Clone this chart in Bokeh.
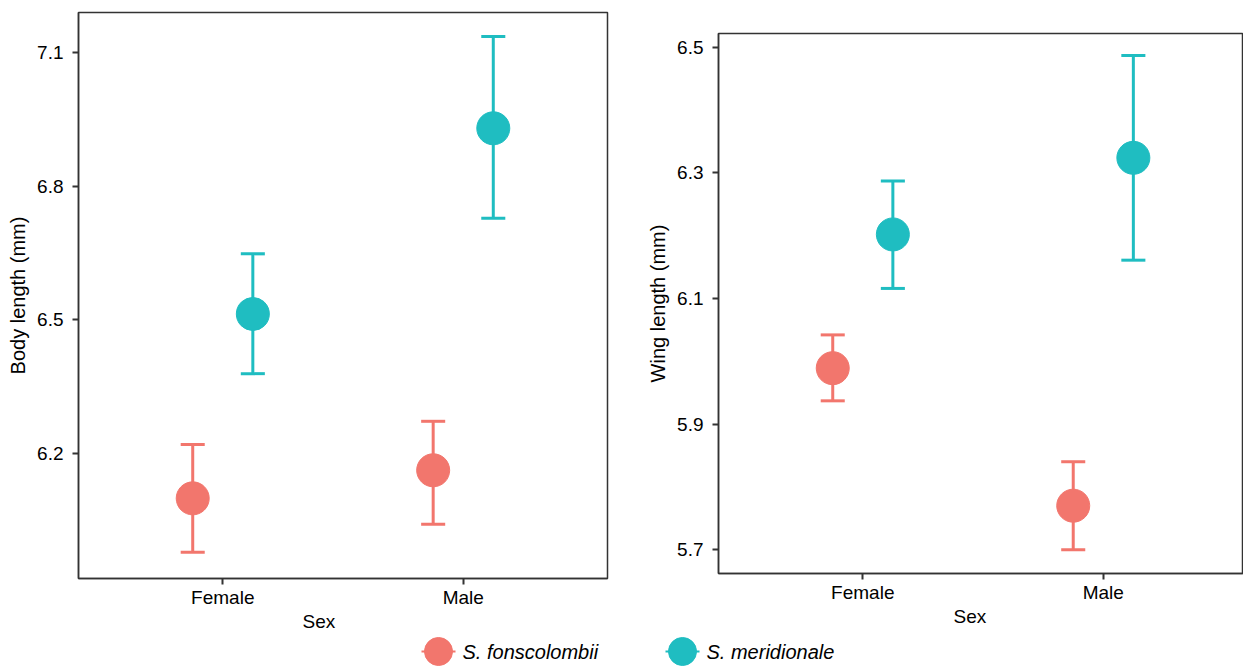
from bokeh.plotting import figure
from bokeh.layouts import column, row
from bokeh.models import FixedTicker, Range1d, Title
from bokeh.embed import file_html
from bokeh.resources import INLINE
from bokeh.core.properties import value

# ---- data ----
sexes = ["Female", "Male"]
species = ["S. fonscolombii", "S. meridionale"]
colors = ["#F2766D", "#1FBDC1"]

body_mean_fon = [6.099, 6.162]
body_lo_fon = [5.978, 6.041]
body_hi_fon = [6.220, 6.272]
body_mean_mer = [6.513, 6.930]
body_lo_mer = [6.379, 6.728]
body_hi_mer = [6.648, 7.136]

wing_mean_fon = [5.989, 5.770]
wing_lo_fon = [5.937, 5.700]
wing_hi_fon = [6.042, 5.840]
wing_mean_mer = [6.202, 6.324]
wing_lo_mer = [6.116, 6.161]
wing_hi_mer = [6.287, 6.487]

body_ticks = [6.2, 6.5, 6.8, 7.1]
wing_ticks = [5.7, 5.9, 6.1, 6.3, 6.5]

FONT = "Liberation Sans"
DARK = "#333333"
DODGE = 0.125
CAP = 0.05


def make_panel(width, height, borders, x_end, y_range, ticks, ylabel, series,
               xtitle_offset):
    bl, br, bt, bb = borders
    p = figure(width=width, height=height, x_range=Range1d(0.4, x_end),
               y_range=Range1d(*y_range), toolbar_location=None, title=None,
               output_backend="svg", min_border_left=bl, min_border_right=br,
               min_border_top=bt, min_border_bottom=bb)
    p.grid.visible = False
    p.outline_line_color = DARK
    p.outline_line_width = 1.5
    p.background_fill_color = "white"

    for k, (means, lo, hi) in enumerate(series):
        off = -DODGE if k == 0 else DODGE
        xs = [i + 1 + off for i in range(len(sexes))]
        c = colors[k]
        p.segment(x0=xs, y0=lo, x1=xs, y1=hi, line_color=c, line_width=3)
        p.segment(x0=[x - CAP for x in xs], y0=lo, x1=[x + CAP for x in xs], y1=lo,
                  line_color=c, line_width=3)
        p.segment(x0=[x - CAP for x in xs], y0=hi, x1=[x + CAP for x in xs], y1=hi,
                  line_color=c, line_width=3)
        p.scatter(x=xs, y=means, size=33, fill_color=c, line_color=c)

    p.xaxis.ticker = FixedTicker(ticks=[i + 1 for i in range(len(sexes))])
    p.xaxis.major_label_overrides = {i + 1: s for i, s in enumerate(sexes)}
    p.yaxis.ticker = FixedTicker(ticks=ticks)
    p.yaxis.axis_label = ylabel
    for ax in p.axis:
        ax.axis_line_color = DARK
        ax.axis_line_width = 1.5
        ax.major_tick_line_color = DARK
        ax.major_tick_line_width = 2
        ax.major_tick_out = 6
        ax.major_tick_in = 0
        ax.minor_tick_line_color = None
        ax.major_label_text_font = FONT
        ax.major_label_text_font_size = "19px"
        ax.major_label_text_color = "black"
        ax.axis_label_text_font = FONT
        ax.axis_label_text_font_size = "20px"
        ax.axis_label_text_font_style = "normal"
        ax.axis_label_text_color = "black"
    p.xaxis.major_label_standoff = 2
    p.yaxis.major_label_standoff = 9
    p.yaxis.axis_label_standoff = 5

    xt = Title(text="Sex", align="left", offset=xtitle_offset, standoff=-4,
               text_font=FONT, text_font_size="19px", text_font_style="normal",
               text_color="black")
    p.add_layout(xt, "below")
    return p


H = 636
p1 = make_panel(640, H, (78, 33, 12, H - 578), 2.6, (5.919, 7.19), body_ticks,
                "Body length (mm)",
                [(body_mean_fon, body_lo_fon, body_hi_fon),
                 (body_mean_mer, body_lo_mer, body_hi_mer)], 224)
p2 = make_panel(603, H, (78, 0, 33, H - 573), 2.583, (5.662, 6.522), wing_ticks,
                "Wing length (mm)",
                [(wing_mean_fon, wing_lo_fon, wing_hi_fon),
                 (wing_mean_mer, wing_lo_mer, wing_hi_mer)], 235)

# ---- legend strip ----
LW, LH = 1243, 30
leg = figure(width=LW, height=LH, x_range=Range1d(0, LW), y_range=Range1d(0, LH),
             toolbar_location=None, output_backend="svg", min_border=0, title=None,
             x_axis_type=None, y_axis_type=None)
leg.grid.visible = False
leg.outline_line_color = None
key_x = [438, 682]
mid = LH / 2
leg.segment(x0=[x - 17 for x in key_x], y0=[mid] * 2, x1=[x + 17 for x in key_x],
            y1=[mid] * 2, line_color=colors, line_width=2)
leg.scatter(x=key_x, y=[mid] * 2, size=28, fill_color=colors, line_color=colors)
leg.text(x=[x + 24 for x in key_x], y=[mid] * 2, text=species,
         text_font=value(FONT), text_font_style="italic", text_font_size="20px",
         text_baseline="middle", text_color="black")

layout = column(row(column(p1), column(p2)), leg)
open("out.html", "w").write(file_html(layout, INLINE))
